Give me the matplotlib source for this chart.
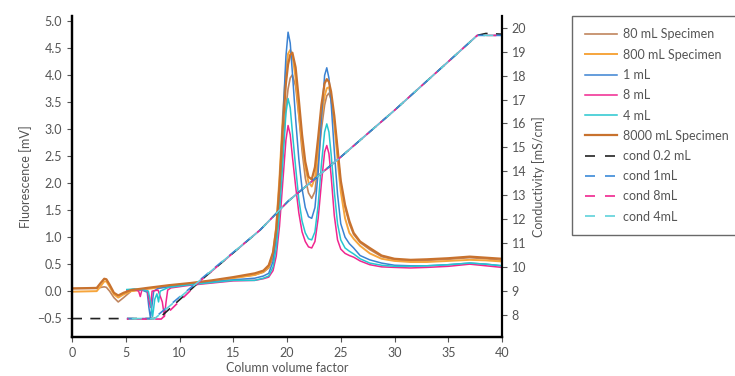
"""
Chromatogram: fluorescence traces (left axis) and conductivity gradients (right axis)
"""
import matplotlib
matplotlib.use('Agg')
import matplotlib.pyplot as plt
from matplotlib.lines import Line2D
from matplotlib.ticker import MultipleLocator

plt.rcParams['font.family'] = ['Lato', 'DejaVu Sans']

# Shared x grid through the elution peaks [column volume factor]
x_peak = [17.0, 17.8, 18.3, 18.7, 19.0, 19.3, 19.6, 19.9, 20.1, 20.3, 20.5, 20.8, 21.1, 21.4,
          21.7, 22.0, 22.3, 22.6, 22.9, 23.2, 23.5, 23.7, 23.9, 24.1, 24.4, 24.7, 25.0, 25.4,
          25.8, 26.2, 26.8, 27.7, 28.8, 30.0, 31.5, 33.0, 35.0, 37.0, 38.5, 40.0]

# Specimen runs start at 0, with the injection bump
x_spec_early = [0.0, 2.3, 2.7, 3.0, 3.2, 3.5, 3.9, 4.3, 4.8, 5.5, 7.0, 9.0, 11.0, 13.0, 15.0]

spec80_early = [0.05, 0.05, 0.07, 0.08, 0.07, 0.0, -0.12, -0.2, -0.12, 0.0, 0.05, 0.1, 0.14, 0.19, 0.25]
spec80_peak = [0.3, 0.35, 0.43, 0.62, 1.0, 1.65, 2.55, 3.4, 3.75, 3.95, 4.01, 3.8, 3.25, 2.6,
               2.1, 1.82, 1.72, 1.85, 2.4, 3.0, 3.45, 3.62, 3.67, 3.55, 3.15, 2.6, 2.0, 1.55,
               1.25, 1.05, 0.9, 0.77, 0.64, 0.58, 0.56, 0.57, 0.59, 0.62, 0.6, 0.57]

spec800_early = [-0.01, 0.0, 0.1, 0.18, 0.18, 0.08, -0.06, -0.12, -0.06, 0.0, 0.04, 0.09, 0.13, 0.18, 0.24]
spec800_peak = [0.3, 0.36, 0.45, 0.7, 1.2, 2.1, 3.2, 4.1, 4.4, 4.47, 4.38, 3.95, 3.3, 2.75,
                2.3, 2.02, 1.94, 2.1, 2.6, 3.2, 3.62, 3.76, 3.78, 3.6, 3.1, 2.45, 1.85, 1.35,
                1.08, 0.97, 0.84, 0.7, 0.6, 0.56, 0.54, 0.54, 0.56, 0.58, 0.57, 0.55]

spec8000_early = [0.05, 0.06, 0.16, 0.23, 0.22, 0.12, -0.03, -0.08, -0.03, 0.02, 0.06, 0.11, 0.15, 0.2, 0.26]
spec8000_peak = [0.33, 0.38, 0.48, 0.72, 1.15, 1.95, 3.0, 3.85, 4.2, 4.38, 4.42, 4.15, 3.55, 2.9,
                 2.4, 2.12, 2.07, 2.3, 2.85, 3.45, 3.85, 3.93, 3.88, 3.7, 3.25, 2.65, 2.05, 1.6,
                 1.3, 1.08, 0.92, 0.8, 0.66, 0.6, 0.58, 0.59, 0.61, 0.64, 0.62, 0.6]

# Dilution runs start at ~5 with injection dips
x_1ml_early = [5.1, 5.8, 6.5, 7.0, 7.15, 7.3, 7.45, 7.6, 8.0, 9.0, 11.0, 13.0, 15.0]
ml1_early = [0.02, 0.03, 0.02, -0.02, -0.3, -0.5, -0.25, 0.0, 0.05, 0.08, 0.13, 0.17, 0.21]
ml1_peak = [0.24, 0.28, 0.33, 0.55, 1.0, 1.85, 3.1, 4.35, 4.8, 4.6, 4.05, 3.2, 2.45, 1.9,
            1.55, 1.38, 1.35, 1.55, 2.2, 3.2, 4.0, 4.14, 3.95, 3.5, 2.6, 1.8, 1.25, 1.0,
            0.88, 0.8, 0.66, 0.58, 0.52, 0.48, 0.47, 0.47, 0.49, 0.52, 0.5, 0.47]

x_8ml_early = [5.1, 5.8, 6.2, 6.35, 6.5, 7.0, 7.15, 7.3, 7.45, 8.0, 8.4, 8.6, 8.75, 8.9, 9.2, 11.0, 13.0, 15.0]
ml8_early = [0.02, 0.03, 0.0, -0.1, 0.02, 0.01, -0.15, -0.3, 0.0, 0.02, -0.2, -0.47, -0.2, 0.02,
             0.06, 0.11, 0.15, 0.19]
ml8_peak = [0.2, 0.23, 0.26, 0.38, 0.65, 1.2, 2.0, 2.8, 3.07, 2.9, 2.5, 1.95, 1.45, 1.1,
            0.92, 0.82, 0.8, 0.92, 1.35, 2.0, 2.58, 2.7, 2.55, 2.15, 1.4, 0.95, 0.78, 0.7,
            0.66, 0.63, 0.56, 0.49, 0.45, 0.44, 0.43, 0.44, 0.46, 0.5, 0.47, 0.44]

x_4ml_early = [5.1, 5.8, 6.5, 7.1, 7.3, 7.5, 7.7, 7.9, 8.05, 8.2, 9.0, 11.0, 13.0, 15.0]
ml4_early = [0.03, 0.04, 0.03, 0.0, -0.2, -0.47, -0.15, -0.05, -0.2, 0.0, 0.07, 0.12, 0.16, 0.2]
ml4_peak = [0.2, 0.24, 0.28, 0.45, 0.8, 1.45, 2.35, 3.3, 3.57, 3.4, 2.95, 2.3, 1.7, 1.3,
            1.08, 0.97, 0.95, 1.1, 1.6, 2.35, 2.95, 3.1, 2.95, 2.55, 1.85, 1.25, 0.95, 0.8,
            0.74, 0.69, 0.6, 0.52, 0.48, 0.46, 0.46, 0.47, 0.49, 0.52, 0.5, 0.47]

# Conductivity [mS/cm]
x_cond02 = [0.0, 7.6, 8.2, 12.0, 17.5, 20.1, 25.0, 30.0, 37.7, 38.5, 40.0]
cond02 = [7.85, 7.85, 7.9, 9.45, 11.55, 12.75, 14.6, 16.55, 19.68, 19.76, 19.73]
x_cond1 = [5.1, 7.6, 12.0, 17.5, 20.1, 25.0, 30.0, 37.7, 40.0]
cond1 = [7.85, 7.85, 9.5, 11.55, 12.75, 14.6, 16.55, 19.68, 19.68]
x_cond8 = [5.1, 8.3, 12.0, 17.5, 20.1, 25.0, 30.0, 37.7, 40.0]
cond8 = [7.83, 7.83, 9.45, 11.55, 12.75, 14.6, 16.55, 19.68, 19.68]
x_cond4 = [5.1, 7.7, 12.0, 17.5, 20.1, 25.0, 30.0, 37.7, 40.0]
cond4 = [7.85, 7.85, 9.48, 11.55, 12.75, 14.6, 16.55, 19.68, 19.68]

c_80 = '#c0855e'
c_800 = '#f6a53c'
c_1 = '#3b82d2'
c_8 = '#f0268f'
c_4 = '#27c6cf'
c_8000 = '#c8722e'
c_cond02 = '#222222'
c_cond1 = '#3b8ad8'
c_cond4 = '#5fd2da'
grey = '#555555'

fig = plt.figure(figsize=(7.35, 3.76), dpi=100)
ax = fig.add_axes([72 / 735, 1 - 337 / 376, 430 / 735, 321 / 376])
ax2 = ax.twinx()

ax.plot(x_spec_early + x_peak, spec80_early + spec80_peak, color=c_80, lw=1.2, label='80 mL Specimen')
ax.plot(x_spec_early + x_peak, spec800_early + spec800_peak, color=c_800, lw=1.4, label='800 mL Specimen')
ax.plot(x_1ml_early + x_peak, ml1_early + ml1_peak, color=c_1, lw=1.1, label='1 mL')
ax.plot(x_8ml_early + x_peak, ml8_early + ml8_peak, color=c_8, lw=1.1, label='8 mL')
ax.plot(x_4ml_early + x_peak, ml4_early + ml4_peak, color=c_4, lw=1.1, label='4 mL')
ax.plot(x_spec_early + x_peak, spec8000_early + spec8000_peak, color=c_8000, lw=1.6, label='8000 mL Specimen')

# Dashed conductivity traces, offset so the overlapping colours interleave
ax2.plot(x_cond02, cond02, color=c_cond02, lw=1.2, ls=(0, (6, 5)))
ax2.plot(x_cond1, cond1, color=c_cond1, lw=1.2, ls=(2, (6, 5)))
ax2.plot(x_cond8, cond8, color=c_8, lw=1.2, ls=(5, (6, 5)))
ax2.plot(x_cond4, cond4, color=c_cond4, lw=1.2, ls=(8, (6, 5)))

# Axes limits and ticks
ax.set_xlim(0, 40)
ax.set_ylim(-0.85, 5.1)
ax2.set_ylim(7.08, 20.49)
ax.xaxis.set_major_locator(MultipleLocator(5))
ax.set_yticks([i * 0.5 for i in range(-1, 11)])
ax2.set_yticks(range(8, 21))

for a in (ax, ax2):
    a.spines['top'].set_visible(False)
    for s in ('left', 'right', 'bottom'):
        a.spines[s].set_linewidth(1.6)
        a.spines[s].set_color('black')
    a.tick_params(colors=grey, labelcolor=grey, labelsize=9, length=3.5, width=0.8)
ax.spines['right'].set_visible(False)

ax.set_xlabel('Column volume factor', color=grey, fontsize=9, labelpad=2)
ax.set_ylabel('Fluorescence [mV]', color=grey, fontsize=9, labelpad=4)
ax2.set_ylabel('Conductivity [mS/cm]', color=grey, fontsize=9, labelpad=4)

# Legend combining both axes
h1, l1 = ax.get_legend_handles_labels()
cond_handles = [Line2D([], [], color=c, lw=1.2, ls=(0, (6, 6)))
                for c in (c_cond02, c_cond1, c_8, c_cond4)]
cond_labels = ['cond 0.2 mL', 'cond 1mL', 'cond 8mL', 'cond 4mL']
leg = fig.legend(h1 + cond_handles, l1 + cond_labels, loc='upper left',
                 bbox_to_anchor=(572 / 735, 1 - 16 / 376),
                 borderaxespad=0, fontsize=9, frameon=True, fancybox=False, borderpad=1.0,
                 handlelength=2.6, handletextpad=0.5, labelspacing=0.66)
leg.get_frame().set_edgecolor('#444444')
leg.get_frame().set_linewidth(1.0)
for t in leg.get_texts():
    t.set_color(grey)

plt.savefig('out.png', dpi=100)
